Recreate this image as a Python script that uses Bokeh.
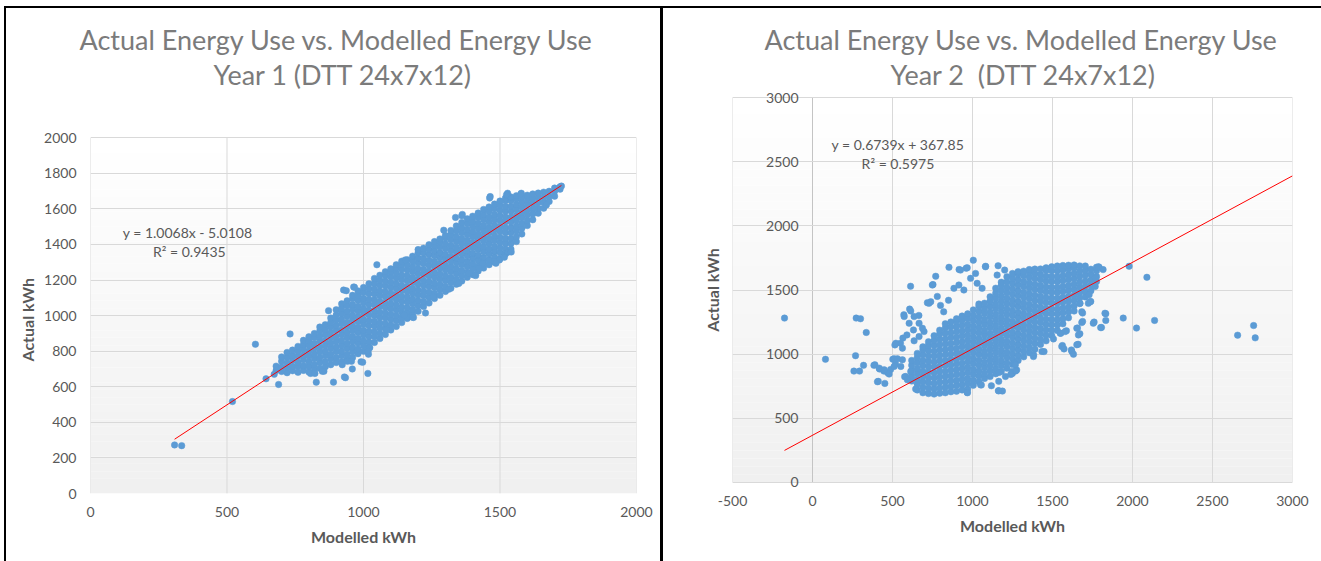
from bokeh.plotting import figure
from bokeh.layouts import row
from bokeh.models import (Range1d, LinearAxis, FixedTicker, Label, Title,
                          PrintfTickFormatter)
from bokeh.embed import file_html
from bokeh.resources import INLINE

# ---------------- Year 1 ----------------
# dense band of hourly readings: (modelled kWh, [actual kWh, ...])
year1_columns = [
    (680, [692, 716]),
    (700, [686, 711, 744, 768]),
    (720, [679, 707, 733, 766, 793]),
    (740, [690, 716, 749, 777, 806]),
    (760, [681, 712, 738, 771, 799, 827]),
    (780, [692, 718, 752, 779, 811, 838, 861]),
    (800, [683, 714, 741, 773, 801, 834, 858, 881]),
    (820, [696, 724, 757, 784, 816, 843, 877, 899]),
    (840, [704, 737, 763, 796, 823, 857, 884, 913, 936]),
    (860, [713, 741, 774, 801, 833, 861, 894, 921, 949]),
    (880, [724, 756, 783, 816, 844, 876, 903, 936, 961, 986]),
    (900, [736, 763, 797, 824, 856, 883, 917, 944, 976, 1003, 1033]),
    (920, [741, 774, 801, 833, 861, 894, 921, 954, 981, 1013, 1041, 1066]),
    (940, [756, 783, 816, 843, 876, 903, 936, 963, 996, 1023, 1056, 1083]),
    (960, [764, 797, 824, 856, 884, 916, 943, 976, 1004, 1036, 1063, 1096, 1114]),
    (980, [786, 813, 846, 873, 906, 933, 966, 993, 1026, 1053, 1086, 1113, 1139]),
    (1000, [799, 832, 859, 891, 918, 951, 978, 1011, 1038, 1071, 1098, 1131, 1158]),
    (1020, [823, 851, 883, 911, 943, 971, 1003, 1031, 1063, 1091, 1123, 1151, 1179]),
    (1040, [849, 881, 909, 941, 969, 1001, 1029, 1061, 1089, 1121, 1149, 1181, 1209]),
    (1060, [871, 899, 931, 959, 991, 1019, 1051, 1079, 1111, 1139, 1171, 1199, 1227]),
    (1080, [894, 926, 954, 986, 1014, 1046, 1074, 1106, 1134, 1166, 1194, 1226, 1247]),
    (1100, [919, 947, 979, 1007, 1039, 1067, 1099, 1127, 1159, 1187, 1219, 1246, 1263]),
    (1120, [939, 971, 999, 1031, 1059, 1091, 1119, 1151, 1179, 1211, 1239, 1268, 1286]),
    (1140, [961, 989, 1021, 1049, 1081, 1109, 1141, 1169, 1201, 1229, 1261, 1289, 1306]),
    (1160, [984, 1016, 1044, 1076, 1104, 1136, 1164, 1196, 1224, 1256, 1284, 1314]),
    (1180, [1006, 1034, 1066, 1094, 1126, 1154, 1186, 1214, 1246, 1274, 1306, 1334]),
    (1200, [1024, 1056, 1084, 1116, 1144, 1176, 1204, 1236, 1264, 1296, 1324, 1354, 1371]),
    (1220, [1051, 1079, 1111, 1139, 1171, 1199, 1231, 1259, 1291, 1319, 1351, 1379]),
    (1240, [1071, 1103, 1131, 1163, 1191, 1223, 1251, 1283, 1311, 1343, 1371, 1399]),
    (1260, [1096, 1124, 1156, 1184, 1216, 1244, 1276, 1304, 1336, 1364, 1394, 1416]),
    (1280, [1114, 1146, 1174, 1206, 1234, 1266, 1294, 1326, 1354, 1386, 1414, 1431]),
    (1300, [1136, 1164, 1196, 1224, 1256, 1284, 1316, 1344, 1376, 1404, 1436, 1451]),
    (1320, [1154, 1186, 1214, 1246, 1274, 1306, 1334, 1366, 1394, 1426, 1454, 1479]),
    (1340, [1176, 1204, 1236, 1264, 1296, 1324, 1356, 1384, 1416, 1444, 1476, 1504]),
    (1360, [1194, 1226, 1254, 1286, 1314, 1346, 1374, 1406, 1434, 1466, 1494, 1524]),
    (1380, [1216, 1244, 1276, 1304, 1336, 1364, 1396, 1424, 1456, 1484, 1516, 1544]),
    (1400, [1231, 1263, 1291, 1323, 1351, 1383, 1411, 1443, 1471, 1503, 1531, 1559]),
    (1420, [1251, 1279, 1311, 1339, 1371, 1399, 1431, 1459, 1491, 1519, 1551, 1577]),
    (1440, [1267, 1299, 1327, 1359, 1387, 1419, 1447, 1479, 1507, 1539, 1567, 1597]),
    (1460, [1286, 1314, 1346, 1374, 1406, 1434, 1466, 1494, 1526, 1554, 1586, 1611]),
    (1480, [1301, 1329, 1361, 1389, 1421, 1449, 1481, 1509, 1541, 1569, 1601, 1627]),
    (1500, [1321, 1353, 1381, 1413, 1441, 1473, 1501, 1533, 1561, 1593, 1621, 1644]),
    (1520, [1346, 1374, 1406, 1434, 1466, 1494, 1526, 1554, 1586, 1614, 1646, 1661]),
    (1540, [1374, 1406, 1434, 1466, 1494, 1526, 1554, 1586, 1614, 1646, 1667]),
    (1560, [1416, 1444, 1476, 1504, 1536, 1564, 1596, 1624, 1656, 1674]),
    (1580, [1459, 1491, 1519, 1551, 1579, 1611, 1639, 1667]),
    (1600, [1506, 1534, 1566, 1594, 1626, 1654, 1677]),
    (1620, [1539, 1571, 1599, 1631, 1659, 1684]),
    (1640, [1576, 1604, 1636, 1664, 1689]),
    (1660, [1604, 1636, 1664, 1694]),
    (1680, [1641, 1669, 1699]),
    (1700, [1671, 1699, 1717]),
    (1720, [1711, 1724]),
]
# isolated readings around the band: (modelled kWh, actual kWh)
year1_scattered = [
    (308, 273), (334, 269), (520, 517), (604, 839), (643, 645), (689, 613),
    (673, 670), (731, 897), (827, 626), (890, 626), (855, 687), (934, 651),
    (959, 700), (1016, 675), (997, 738), (806, 675), (822, 675), (922, 724),
    (941, 743), (956, 743), (1018, 783), (1014, 800), (1023, 820), (872, 1028),
    (927, 1144), (964, 1161), (1049, 1286), (1294, 1480), (1337, 1552),
    (1362, 1569), (1464, 1669), (1528, 1688), (1578, 1688), (1670, 1622),
    (1627, 1603), (849, 687), (930, 655), (991, 740), (1017, 801), (1084, 920),
    (1146, 1006), (1161, 991), (1180, 991), (1227, 1015), (1257, 1104),
    (1312, 1148), (1405, 1229), (1436, 1294), (1479, 1305), (1498, 1313),
    (1528, 1356), (1541, 1358), (1516, 1328), (1485, 1294), (1423, 1266),
    (1411, 1225), (1386, 1238), (1349, 1181), (1183, 989), (1149, 1003),
    (1462, 1661), (1524, 1680), (1577, 1683), (1360, 1561), (1153, 1313),
    (937, 1140), (967, 1159), (1725, 1728),
]
year1_slope = 1.0068
year1_intercept = -5.0108
year1_r2 = 0.9435
year1_xticks = [0, 500, 1000, 1500, 2000]
year1_yticks = [0, 200, 400, 600, 800, 1000, 1200, 1400, 1600, 1800, 2000]

# ---------------- Year 2 ----------------
year2_columns = [
    (620, [791, 828, 873, 913, 951]),
    (655, [721, 766, 804, 849, 889, 933, 974, 1006]),
    (690, [699, 743, 784, 827, 867, 911, 951, 996, 1034, 1057]),
    (725, [693, 734, 777, 817, 861, 901, 945, 985, 1029, 1069, 1097]),
    (760, [689, 731, 771, 815, 855, 899, 939, 983, 1023, 1067, 1107, 1144]),
    (795, [696, 737, 781, 821, 865, 905, 949, 989, 1033, 1073, 1117, 1157, 1187]),
    (830, [699, 743, 783, 827, 867, 911, 951, 995, 1035, 1079, 1119, 1163, 1203, 1237]),
    (865, [707, 747, 791, 831, 875, 915, 959, 999, 1043, 1083, 1127, 1167, 1211, 1251]),
    (900, [711, 755, 795, 839, 879, 923, 963, 1007, 1047, 1091, 1131, 1175, 1215, 1257, 1276]),
    (935, [721, 761, 805, 845, 889, 929, 973, 1013, 1057, 1097, 1141, 1181, 1225, 1265, 1297]),
    (970, [729, 773, 813, 857, 897, 941, 981, 1025, 1065, 1109, 1149, 1193, 1233, 1277, 1314]),
    (1005, [757, 797, 841, 881, 925, 965, 1009, 1049, 1093, 1133, 1177, 1217, 1261, 1301, 1345]),
    (1040, [785, 829, 869, 913, 953, 997, 1037, 1081, 1121, 1165, 1205, 1249, 1289, 1333, 1373, 1391]),
    (1075, [811, 851, 895, 935, 979, 1019, 1063, 1103, 1147, 1187, 1231, 1271, 1315, 1355, 1397]),
    (1110, [825, 869, 909, 953, 993, 1037, 1077, 1121, 1161, 1205, 1245, 1289, 1329, 1373, 1413, 1447]),
    (1145, [847, 887, 931, 971, 1015, 1055, 1099, 1139, 1183, 1223, 1267, 1307, 1351, 1391, 1435, 1475, 1514]),
    (1180, [865, 909, 949, 993, 1033, 1077, 1117, 1161, 1201, 1245, 1285, 1329, 1369, 1413, 1453, 1497, 1537, 1561]),
    (1215, [891, 931, 975, 1015, 1059, 1099, 1143, 1183, 1227, 1267, 1311, 1351, 1395, 1435, 1479, 1519, 1563, 1603]),
    (1250, [919, 963, 1003, 1047, 1087, 1131, 1171, 1215, 1255, 1299, 1339, 1383, 1423, 1467, 1507, 1551, 1591, 1629]),
    (1285, [951, 991, 1035, 1075, 1119, 1159, 1203, 1243, 1287, 1327, 1371, 1411, 1455, 1495, 1539, 1579, 1623, 1643]),
    (1320, [979, 1023, 1063, 1107, 1147, 1191, 1231, 1275, 1315, 1359, 1399, 1443, 1483, 1527, 1567, 1611, 1647]),
    (1355, [1011, 1051, 1095, 1135, 1179, 1219, 1263, 1303, 1347, 1387, 1431, 1471, 1515, 1555, 1599, 1639, 1659]),
    (1390, [1039, 1083, 1123, 1167, 1207, 1251, 1291, 1335, 1375, 1419, 1459, 1503, 1543, 1587, 1627, 1663]),
    (1425, [1076, 1116, 1160, 1200, 1244, 1284, 1328, 1368, 1412, 1452, 1496, 1536, 1580, 1620, 1664]),
    (1460, [1104, 1148, 1188, 1232, 1272, 1316, 1356, 1400, 1440, 1484, 1524, 1568, 1608, 1652, 1673]),
    (1495, [1146, 1186, 1230, 1270, 1314, 1354, 1398, 1438, 1482, 1522, 1566, 1606, 1650, 1681]),
    (1530, [1184, 1228, 1268, 1312, 1352, 1396, 1436, 1480, 1520, 1564, 1604, 1648, 1687]),
    (1565, [1236, 1276, 1320, 1360, 1404, 1444, 1488, 1528, 1572, 1612, 1656, 1691]),
    (1600, [1284, 1328, 1368, 1412, 1452, 1496, 1536, 1580, 1620, 1664, 1693]),
    (1635, [1336, 1376, 1420, 1460, 1504, 1544, 1588, 1628, 1672, 1695]),
    (1670, [1394, 1438, 1478, 1522, 1562, 1606, 1646, 1688]),
    (1705, [1446, 1486, 1530, 1570, 1614, 1654, 1687]),
    (1740, [1494, 1538, 1578, 1622, 1662]),
    (1775, [1566, 1606, 1650, 1677]),
]
year2_scattered = [
    (-175, 1281), (81, 960), (269, 988), (273, 1281), (300, 1276), (336, 1169),
    (259, 868), (294, 868), (319, 913), (384, 913), (406, 785), (452, 772),
    (419, 884), (446, 868), (470, 855), (488, 880), (519, 923), (502, 960),
    (515, 1072), (550, 1085), (565, 1125), (590, 1150), (576, 824), (390, 917),
    (417, 891), (448, 878), (411, 788), (479, 845), (510, 904), (510, 964),
    (531, 964), (552, 904), (562, 956), (521, 1085), (562, 1047), (613, 1529),
    (853, 1677), (1005, 1732), (1082, 1685), (916, 1660), (960, 1670),
    (753, 1542), (770, 1607), (665, 1302), (571, 1307), (607, 1351), (718, 1401),
    (697, 1176), (573, 1293), (614, 1337), (635, 1293), (604, 1241), (631, 1189),
    (666, 1241), (687, 1202), (635, 1104), (666, 1137), (739, 1409), (749, 1539),
    (728, 1396), (925, 1655), (967, 1673), (988, 1591), (1019, 1629),
    (1029, 1552), (1081, 1681), (1160, 1689), (1201, 1655), (1154, 1616),
    (1060, 1513), (884, 1513), (915, 1539), (946, 1500), (780, 1450),
    (820, 1330), (800, 1380), (850, 1420),
    (1979, 1685), (2090, 1599), (1833, 1315), (1942, 1281), (2025, 1203),
    (2138, 1263), (1833, 1263), (1806, 1208), (1760, 1250), (1739, 1411),
    (1729, 1463), (1688, 1320), (1688, 1255), (1656, 1203), (1671, 1159),
    (1660, 1077), (1618, 1033), (1587, 1182), (1552, 1163), (2657, 1148),
    (2757, 1223), (2767, 1127), (1791, 1677), (1816, 1659), (1771, 1593),
    (1767, 1528), (1787, 1681), (1828, 1319), (1801, 1207), (1755, 1241),
    (1683, 1246), (1652, 1202), (1672, 1396), (1683, 1331), (1724, 1396),
    (1735, 1409), (1579, 1176), (1548, 1163), (1558, 1060), (1621, 1021),
    (1652, 1073), (1662, 1150), (1506, 1119), (1382, 995), (1434, 1021),
    (1562, 1067), (1572, 1041), (1631, 999), (1447, 1020), (1381, 981),
    (1260, 928), (1276, 877), (1249, 850), (1187, 712), (1268, 917),
    (1247, 865), (1206, 826), (1164, 788), (1118, 754), (1050, 762),
    (1164, 715), (967, 702), (645, 728), (583, 826), (593, 801), (614, 865),
    (968, 699), (1055, 759), (1162, 714), (1166, 858), (1239, 842), (1270, 869),
]
year2_slope = 0.6739
year2_intercept = 367.85
year2_r2 = 0.5975
year2_xticks = [-500, 0, 500, 1000, 1500, 2000, 2500, 3000]
year2_yticks = [0, 500, 1000, 1500, 2000, 2500, 3000]

TITLE = "Actual Energy Use vs. Modelled Energy Use"
year1_subtitle = "Year 1 (DTT 24x7x12)"
year2_subtitle = "Year 2\u00a0 (DTT 24x7x12)"

FONT = "Lato"
GRID = "#d9d9d9"
AXIS = "#c4c4c4"
TEXT = "#595959"
DOT = "#5b9bd5"


def flatten(columns, scattered):
    xs, ys = [], []
    for x, col in columns:
        for y in col:
            xs.append(x)
            ys.append(y)
    for x, y in scattered:
        xs.append(x)
        ys.append(y)
    return xs, ys


def equation(slope, intercept):
    sign = "-" if intercept < 0 else "+"
    return f"y = {slope}x {sign} {abs(intercept)}"


def add_gradient(p, x0, x1, y0, y1, n=48):
    # plot area fades from white at the top to light grey at the bottom
    h = (y1 - y0) / n
    bottoms = [y0 + i * h for i in range(n)]
    tops = [b + h for b in bottoms]
    colors = []
    for i in range(n):
        v = int(round(240 + 15 * (i + 0.5) / n))
        colors.append("#%02x%02x%02x" % (v, v, v))
    p.quad(left=[x0] * n, right=[x1] * n, bottom=bottoms, top=tops,
           fill_color=colors, line_color=None, level="image")


def style_axis(ax, ticks):
    ax.ticker = FixedTicker(ticks=ticks)
    ax.formatter = PrintfTickFormatter(format="%d")
    ax.major_tick_out = 0
    ax.major_tick_in = 0
    ax.minor_tick_out = 0
    ax.minor_tick_in = 0
    ax.axis_line_color = None
    ax.major_label_text_font = FONT
    ax.major_label_text_font_size = "14px"
    ax.major_label_text_color = TEXT
    ax.axis_label_text_font = FONT
    ax.axis_label_text_font_size = "16px"
    ax.axis_label_text_font_style = "bold"
    ax.axis_label_text_color = TEXT


def make_panel(columns, scattered, slope, intercept, r2, xticks, yticks,
               subtitle, frame_w, frame_h, pads, borders, eq_pos, r2_pos,
               y_at_zero, trend_to_edge, css, margin, ylabel_offset,
               title_offsets):
    xs, ys = flatten(columns, scattered)
    x0, x1 = xticks[0], xticks[-1]
    y0, y1 = yticks[0], yticks[-1]
    # blank strips above / below the plot area: room for the chart title and
    # for the outermost labels of an axis drawn inside the plot
    pad_top, pad_bottom = pads
    per_px = (y1 - y0) / frame_h
    p = figure(frame_width=frame_w, frame_height=frame_h + pad_top + pad_bottom,
               x_range=Range1d(x0, x1),
               y_range=Range1d(y0 - pad_bottom * per_px, y1 + pad_top * per_px),
               min_border_left=borders[0], min_border_right=borders[1],
               min_border_top=borders[2], min_border_bottom=borders[3],
               output_backend="svg", toolbar_location=None,
               background_fill_color="white", border_fill_color="white",
               outline_line_color=None, styles=css, margin=margin,
               frame_align=False)
    add_gradient(p, x0, x1, y0, y1)

    # horizontal grid spans the full width; vertical lines stop at the plot area
    p.ygrid.ticker = FixedTicker(ticks=yticks)
    p.ygrid.grid_line_color = GRID
    p.xgrid.visible = False
    p.segment(x0=xticks, y0=[y0] * len(xticks), x1=xticks, y1=[y1] * len(xticks),
              line_color=GRID, line_width=1, level="underlay")

    style_axis(p.xaxis[0], xticks)
    p.xaxis.axis_label = "Modelled kWh"
    p.xaxis.major_label_standoff = 13 - pad_bottom
    p.xaxis.axis_label_standoff = 7

    style_axis(p.yaxis[0], yticks)
    p.yaxis.major_label_standoff = 14
    if y_at_zero:
        # vertical axis crosses at x = 0; its title stays at the left edge
        p.yaxis.fixed_location = 0
        p.segment(x0=[0], y0=[y0], x1=[0], y1=[y1], line_color=AXIS,
                  line_width=1, level="underlay")
        side = LinearAxis(ticker=FixedTicker(ticks=[]), axis_line_color=None,
                          major_label_text_font_size="0px",
                          major_tick_out=0, minor_tick_out=0,
                          major_label_standoff=0)
        side.axis_label = "Actual kWh"
        side.axis_label_text_font = FONT
        side.axis_label_text_font_size = "16px"
        side.axis_label_text_font_style = "bold"
        side.axis_label_text_color = TEXT
        side.axis_label_standoff = 11
        p.add_layout(side, "left")
    else:
        # vertical title placed against the plot area rather than the frame
        p.add_layout(Title(text="Actual kWh", align="left", offset=ylabel_offset,
                           vertical_align="middle", standoff=7,
                           text_font=FONT, text_font_size="16px",
                           text_font_style="bold", text_color=TEXT), "left")

    p.scatter(xs, ys, size=6.5, fill_color=DOT, line_color=DOT, line_width=0.5)

    tx0 = min(xs)
    tx1 = x1 if trend_to_edge else max(xs)
    p.line([tx0, tx1], [slope * tx0 + intercept, slope * tx1 + intercept],
           line_color="#ff0000", line_width=1)

    for txt, (lx, ly) in ((equation(slope, intercept), eq_pos),
                          (f"R\u00b2 = {r2}", r2_pos)):
        p.add_layout(Label(x=lx, y=ly, text=txt, text_align="left",
                           text_baseline="middle", text_font=FONT,
                           text_font_size="14px", text_color=TEXT))

    # two-line chart title, second line nearest the plot
    p.title.text = ""
    for txt, off in ((subtitle, title_offsets[1]), (TITLE, title_offsets[0])):
        p.add_layout(Title(text=txt, align="left", offset=off,
                           vertical_align="middle", standoff=0,
                           text_font=FONT, text_font_size="27px",
                           text_font_style="normal", text_color="#7b7b7b"),
                     "above")
    return p


left = make_panel(year1_columns, year1_scattered, year1_slope, year1_intercept,
                  year1_r2, year1_xticks, year1_yticks, year1_subtitle,
                  541, 354, (46, 0), (84, 29, 83, 70),
                  (118, 1467), (229, 1360),
                  False, False,
                  {"border-top": "2px solid black", "border-left": "2px solid black",
                   "border-right": "3px solid black"},
                  (6, 0, 0, 4), 132, (-11, 123))
right = make_panel(year2_columns, year2_scattered, year2_slope, year2_intercept,
                   year2_r2, year2_xticks, year2_yticks, year2_subtitle,
                   560, 383, (6, 6), (69, 29, 83, 75),
                   (119, 2632), (307, 2483),
                   True, True,
                   {"border-top": "2px solid black"},
                   (6, 0, 0, 0), 0, (32, 158))

layout = row(left, right)
open("out.html", "w").write(file_html(layout, INLINE))
